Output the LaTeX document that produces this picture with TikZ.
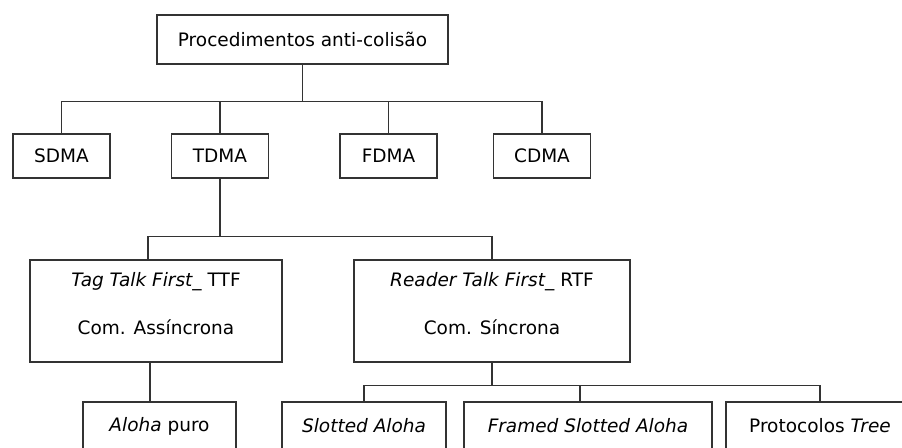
\documentclass[tikz,border=0pt]{standalone}
\usepackage{fontspec}
\setmainfont{DejaVu Sans}
\begin{document}
\begin{tikzpicture}[x=1pt,y=-1pt,
  caixa/.style={draw=black!80,line width=1.4pt,inner sep=0pt,align=center,
                font=\fontsize{18.5}{22}\selectfont},
  nivel/.style={caixa,minimum width=97pt,minimum height=44pt},
  folha/.style={caixa,minimum height=48pt},
  ligacao/.style={draw=black!80,line width=1.4pt}]
\useasboundingbox (0,0) rectangle (902,447);
\node[caixa,minimum width=291pt,minimum height=49pt] (proc) at (302.5,39.5) {Procedimentos anti-colisão};
% primeiro nivel
\node[nivel] (sdma) at (61.5,156) {SDMA};
\node[nivel] (tdma) at (220,156) {TDMA};
\node[nivel] (fdma) at (388.5,156) {FDMA};
\node[nivel] (cdma) at (542,156) {CDMA};
% TTF / RTF
\node[caixa,minimum width=252pt,minimum height=102pt] (ttf) at (156,311)
    {\textit{Tag Talk First\_} TTF\\[26pt]Com. Assíncrona\\[-6pt]\mbox{}};
\node[caixa,minimum width=276pt,minimum height=102pt] (rtf) at (492,311)
    {\textit{Reader Talk First\_} RTF\\[26pt]Com. Síncrona\\[-6pt]\mbox{}};
% folhas
\node[folha,minimum width=153pt] (aloha) at (159.5,426) {\textit{Aloha} puro};
\node[folha,minimum width=164pt] (slotted) at (364,426) {\textit{Slotted Aloha}};
\node[folha,minimum width=248pt] (framed) at (588,426) {\textit{Framed Slotted Aloha}};
\node[folha,minimum width=188pt] (tree) at (820,426) {Protocolos \textit{Tree}};

\draw[ligacao] (proc.south) -- ++(0,37) coordinate (bus1);
\draw[ligacao] (bus1) -| (sdma.north);
\draw[ligacao] (bus1) -| (tdma.north);
\draw[ligacao] (bus1) -| (fdma.north);
\draw[ligacao] (bus1) -| (cdma.north);

\draw[ligacao] (tdma.south) -- ++(0,58) coordinate (bus2);
\draw[ligacao] (bus2) -| ([xshift=-8pt]ttf.north);
\draw[ligacao] (bus2) -| (rtf.north);

\draw[ligacao] ([xshift=-6pt]ttf.south) -- ([xshift=-6pt]ttf.south |- aloha.north);

\draw[ligacao] (rtf.south) -- ++(0,23) coordinate (bus3);
\draw[ligacao] (bus3) -| (slotted.north);
\draw[ligacao] (bus3) -| ([xshift=-8pt]framed.north);
\draw[ligacao] (bus3) -| (tree.north);
\end{tikzpicture}
\end{document}
